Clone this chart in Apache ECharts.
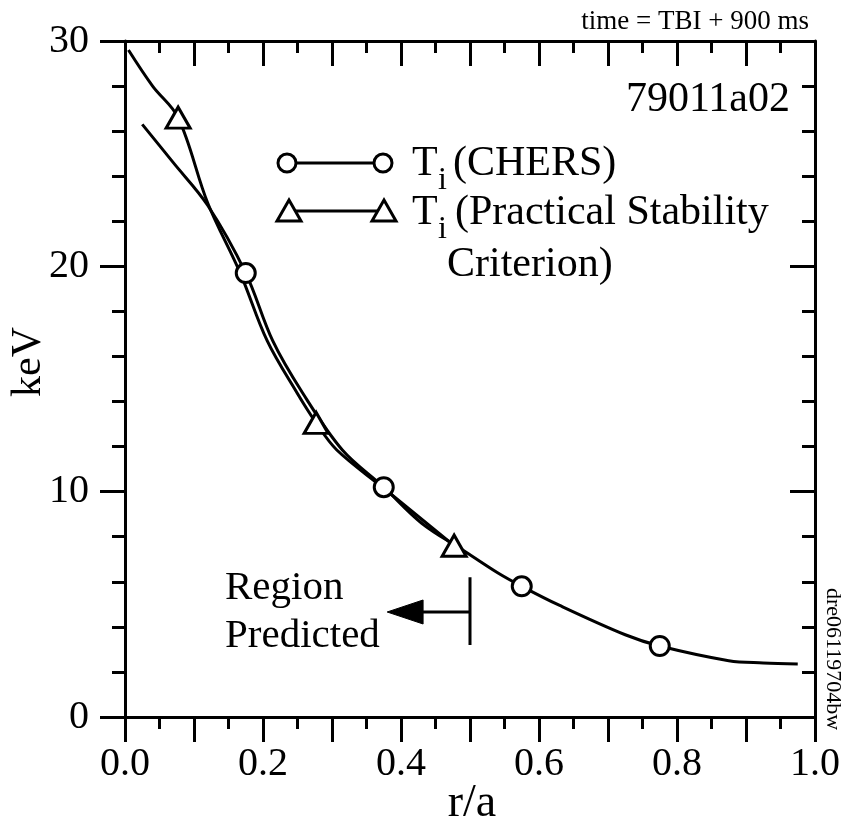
<!DOCTYPE html>
<html>
<head>
<meta charset="utf-8">
<script src="https://cdn.jsdelivr.net/npm/echarts@6/dist/echarts.min.js"></script>
<style>
html,body{margin:0;padding:0;background:#fff;}
#chart{width:854px;height:827px;}
</style>
</head>
<body>
<div id="chart"></div>
<script>
// ---- data ----
const chersCurveR = [0.025, 0.07, 0.12, 0.175, 0.214, 0.257, 0.315, 0.375, 0.43, 0.49, 0.54, 0.575, 0.63, 0.725, 0.775, 0.875, 0.925, 0.975];
const chersCurveT = [26.3, 24.6, 22.7, 19.7, 16.7, 14.4, 11.85, 10.2, 8.6, 7.4, 6.4, 5.8, 4.95, 3.65, 3.15, 2.5, 2.4, 2.35];
const stabCurveR = [0.005, 0.04, 0.077, 0.12, 0.167, 0.206, 0.249, 0.277, 0.307, 0.375, 0.477];
const stabCurveT = [29.6, 28.0, 26.6, 22.8, 19.7, 16.7, 14.4, 13.05, 11.85, 10.15, 7.6];
const chersR = [0.175, 0.375, 0.575, 0.775];
const chersT = [19.7, 10.2, 5.8, 3.15];
const stabR = [0.077, 0.277, 0.477];
const stabT = [26.6, 13.05, 7.6];
const xTickLabels = ['0.0', '0.2', '0.4', '0.6', '0.8', '1.0'];
const yTickLabels = ['0', '10', '20', '30'];

const pairs = (xs, ys) => xs.map((x, i) => [x, ys[i]]);
const FONT = '"Liberation Serif", "Times New Roman", serif';
const f = (s) => s + 'px ' + FONT;

const chart = echarts.init(document.getElementById('chart'), null, {renderer: 'canvas'});

function xFmt(v) {
  const k = Math.round(v * 10);
  if (Math.abs(v * 10 - k) > 1e-6 || k % 2 !== 0) return '';
  return xTickLabels[k / 2] || '';
}
function yFmt(v) {
  const k = Math.round(v / 10);
  return yTickLabels[k] || '';
}

const axisLine = {show: true, onZero: false, lineStyle: {color: '#000', width: 3}};
const xCommon = {
  type: 'value', min: 0, max: 1, interval: 0.1,
  axisLine: axisLine, splitLine: {show: false},
  minorTick: {show: true, splitNumber: 2, length: 12, lineStyle: {color: '#000', width: 3}}
};
const yCommon = {
  type: 'value', min: 0, max: 30, interval: 10,
  axisLine: axisLine, splitLine: {show: false},
  minorTick: {show: true, splitNumber: 5, length: 13, lineStyle: {color: '#000', width: 3}}
};

const option = {
  animation: false,
  backgroundColor: '#fff',
  grid: {left: 125, right: 39, top: 41, bottom: 110, containLabel: false},
  xAxis: [
    Object.assign({}, xCommon, {
      position: 'bottom',
      axisTick: {show: true, inside: false, length: 25, lineStyle: {color: '#000', width: 3}},
      axisLabel: {show: true, formatter: xFmt, margin: 27, color: '#000', fontSize: 40, fontFamily: FONT, showMinLabel: true, showMaxLabel: true}
    }),
    Object.assign({}, xCommon, {
      position: 'top',
      axisTick: {show: true, inside: true, length: 25, lineStyle: {color: '#000', width: 3}},
      axisLabel: {show: false}
    })
  ],
  yAxis: [
    Object.assign({}, yCommon, {
      position: 'left',
      axisTick: {show: true, inside: false, length: 25, lineStyle: {color: '#000', width: 3}},
      axisLabel: {show: true, formatter: yFmt, margin: 36, color: '#000', fontSize: 40, fontFamily: FONT, padding: [8, 0, 0, 0]}
    }),
    Object.assign({}, yCommon, {
      position: 'right',
      axisTick: {show: true, inside: true, length: 25, lineStyle: {color: '#000', width: 3}},
      axisLabel: {show: false}
    })
  ],
  series: [
    {
      type: 'line', name: 'CHERS curve', data: pairs(chersCurveR, chersCurveT),
      smooth: 0.35, showSymbol: false, symbol: 'none',
      lineStyle: {color: '#000', width: 3}, z: 2
    },
    {
      type: 'line', name: 'Stability curve', data: pairs(stabCurveR, stabCurveT),
      smooth: 0.35, showSymbol: false, symbol: 'none',
      lineStyle: {color: '#000', width: 3}, z: 2
    },
    {
      type: 'scatter', name: 'Ti (CHERS)', data: pairs(chersR, chersT),
      symbol: 'circle', symbolSize: 19,
      itemStyle: {color: '#fff', borderColor: '#000', borderWidth: 3, opacity: 1}, z: 5
    },
    {
      type: 'scatter', name: 'Ti (Practical Stability Criterion)', data: pairs(stabR, stabT),
      symbol: 'triangle', symbolSize: [24, 21],
      itemStyle: {color: '#fff', borderColor: '#000', borderWidth: 3, opacity: 1}, z: 5
    },
    {
      type: 'line', name: 'region bar', data: [[0.5, 6.2], [0.5, 3.2]],
      showSymbol: false, symbol: 'none', lineStyle: {color: '#000', width: 3}, z: 3
    },
    {
      type: 'line', name: 'region shaft', data: [[0.5, 4.66], [0.43, 4.66]],
      showSymbol: false, symbol: 'none', lineStyle: {color: '#000', width: 3}, z: 3
    }
  ]
};
chart.setOption(option);

// annotations and custom legend
const tip = chart.convertToPixel({xAxisIndex: 0, yAxisIndex: 0}, [0.38, 4.66]);
const base = chart.convertToPixel({xAxisIndex: 0, yAxisIndex: 0}, [0.432, 4.66]);

function txt(x, y, text, size, extra) {
  return Object.assign({
    type: 'text', x: x, y: y, z: 100,
    style: Object.assign({text: text, font: f(size), fill: '#000', align: 'left', verticalAlign: 'middle'}, (extra && extra.style) || {})
  }, extra && extra.rotation !== undefined ? {rotation: extra.rotation} : {});
}
function tri(cx, cy) {
  return {type: 'polygon', z: 100, shape: {points: [[cx, cy - 11], [cx + 12, cy + 10], [cx - 12, cy + 10]]},
    style: {fill: '#fff', stroke: '#000', lineWidth: 3}};
}
function circ(cx, cy) {
  return {type: 'circle', z: 100, shape: {cx: cx, cy: cy, r: 9}, style: {fill: '#fff', stroke: '#000', lineWidth: 3}};
}

chart.setOption({
  graphic: [
    txt(809, 22, 'time = TBI + 900 ms', 27, {style: {align: 'right'}}),
    txt(790, 100, '79011a02', 42, {style: {align: 'right'}}),
    // legend row 1
    {type: 'line', z: 99, shape: {x1: 287, y1: 163, x2: 383, y2: 163}, style: {stroke: '#000', lineWidth: 3}},
    circ(287, 163), circ(383, 163),
    txt(412, 164, 'T', 42), txt(438, 181, 'i', 32), txt(453, 164, '(CHERS)', 42),
    // legend row 2
    {type: 'line', z: 99, shape: {x1: 289, y1: 211, x2: 384, y2: 211}, style: {stroke: '#000', lineWidth: 3}},
    tri(289, 211), tri(384, 211),
    txt(412, 213, 'T', 42), txt(438, 230, 'i', 32), txt(455, 213, '(Practical Stability', 42),
    txt(447, 265, 'Criterion)', 42),
    // region predicted
    txt(225, 588, 'Region', 41), txt(225, 636, 'Predicted', 41),
    {type: 'polygon', z: 100, shape: {points: [[tip[0], tip[1]], [base[0], base[1] - 12], [base[0], base[1] + 12]]},
      style: {fill: '#000', stroke: '#000', lineWidth: 1}},
    // axis names
    txt(29, 362, 'keV', 42, {style: {align: 'center'}, rotation: Math.PI / 2}),
    txt(472, 804, 'r/a', 46, {style: {align: 'center'}}),
    txt(833, 659, 'dre06119704bw', 22, {style: {align: 'center'}, rotation: -Math.PI / 2})
  ]
});
</script>
</body>
</html>
